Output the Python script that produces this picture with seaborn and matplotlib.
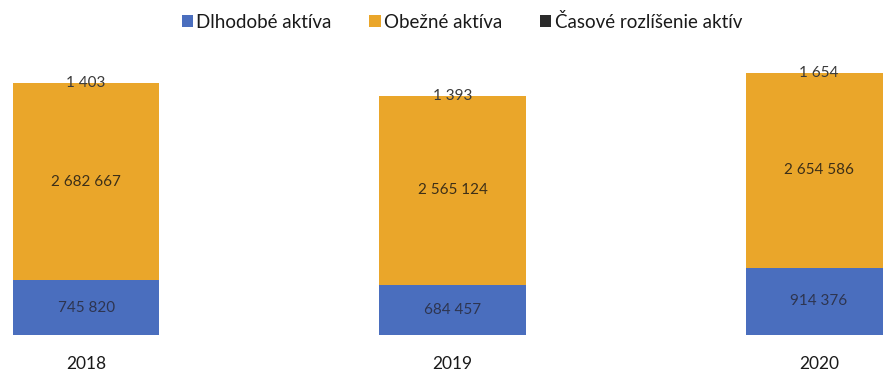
import matplotlib
matplotlib.use("Agg")
import matplotlib.pyplot as plt
import seaborn as sns
import pandas as pd
import numpy as np
from matplotlib.patches import Patch

years = ["2018", "2019", "2020"]
dlhodobe = [745820, 684457, 914376]
obezne = [2682667, 2565124, 2654586]
casove = [1403, 1393, 1654]
series_names = ["Dlhodobé aktíva", "Obežné aktíva", "Časové rozlíšenie aktív"]

c_blue = "#4A6EBE"
c_orange = "#EAA62A"
c_dark = "#2b2b2b"

sns.set_theme(style="white")
plt.rcParams["font.family"] = ["Lato", "DejaVu Sans"]

def fmt(v):
    return f"{v:,}".replace(",", " ")

df = pd.DataFrame({"year": years, "d": dlhodobe, "o": obezne, "c": casove})
df["do"] = df["d"] + df["o"]
df["tot"] = df["do"] + df["c"]

fig = plt.figure(figsize=(8.83, 3.73), dpi=100)
ax = fig.add_axes([0.0, (373 - 335) / 373, 1.0, (335 - 62) / 373])

w = 0.40
sns.barplot(data=df, x="year", y="tot", color=c_dark, width=w, saturation=1, ax=ax, linewidth=0)
sns.barplot(data=df, x="year", y="do", color=c_orange, width=w, saturation=1, ax=ax, linewidth=0)
sns.barplot(data=df, x="year", y="d", color=c_blue, width=w, saturation=1, ax=ax, linewidth=0)

for i in range(len(years)):
    ax.text(i, df["d"][i] / 2, fmt(dlhodobe[i]), ha="center", va="center",
            fontsize=11, color="#2e3550")
    ax.text(i, df["d"][i] + df["o"][i] / 2, fmt(obezne[i]), ha="center", va="center",
            fontsize=11, color="#3d2f18")
    ax.text(i, df["tot"][i], fmt(casove[i]), ha="center", va="center",
            fontsize=11, color="#3a3a3a")

ax.set_xlim(-0.235, 2.175)
ax.set_ylim(0, 3.716e6)
ax.set_xlabel("")
ax.set_ylabel("")
ax.set_yticks([])
ax.tick_params(axis="x", length=0, pad=15, labelsize=12.5, labelcolor="#1a1a1a")
for s in ax.spines.values():
    s.set_visible(False)

handles = [Patch(facecolor=c_blue, edgecolor="none"),
           Patch(facecolor=c_orange, edgecolor="none"),
           Patch(facecolor=c_dark, edgecolor="none")]
fig.legend(handles, series_names, loc="center", bbox_to_anchor=(462 / 883, 1 - 22 / 373),
           ncol=3, frameon=False, fontsize=13.5, handlelength=0.6, handleheight=0.6,
           handletextpad=0.2, columnspacing=2.0, labelcolor="#1a1a1a")

fig.savefig("out.png", dpi=100)
